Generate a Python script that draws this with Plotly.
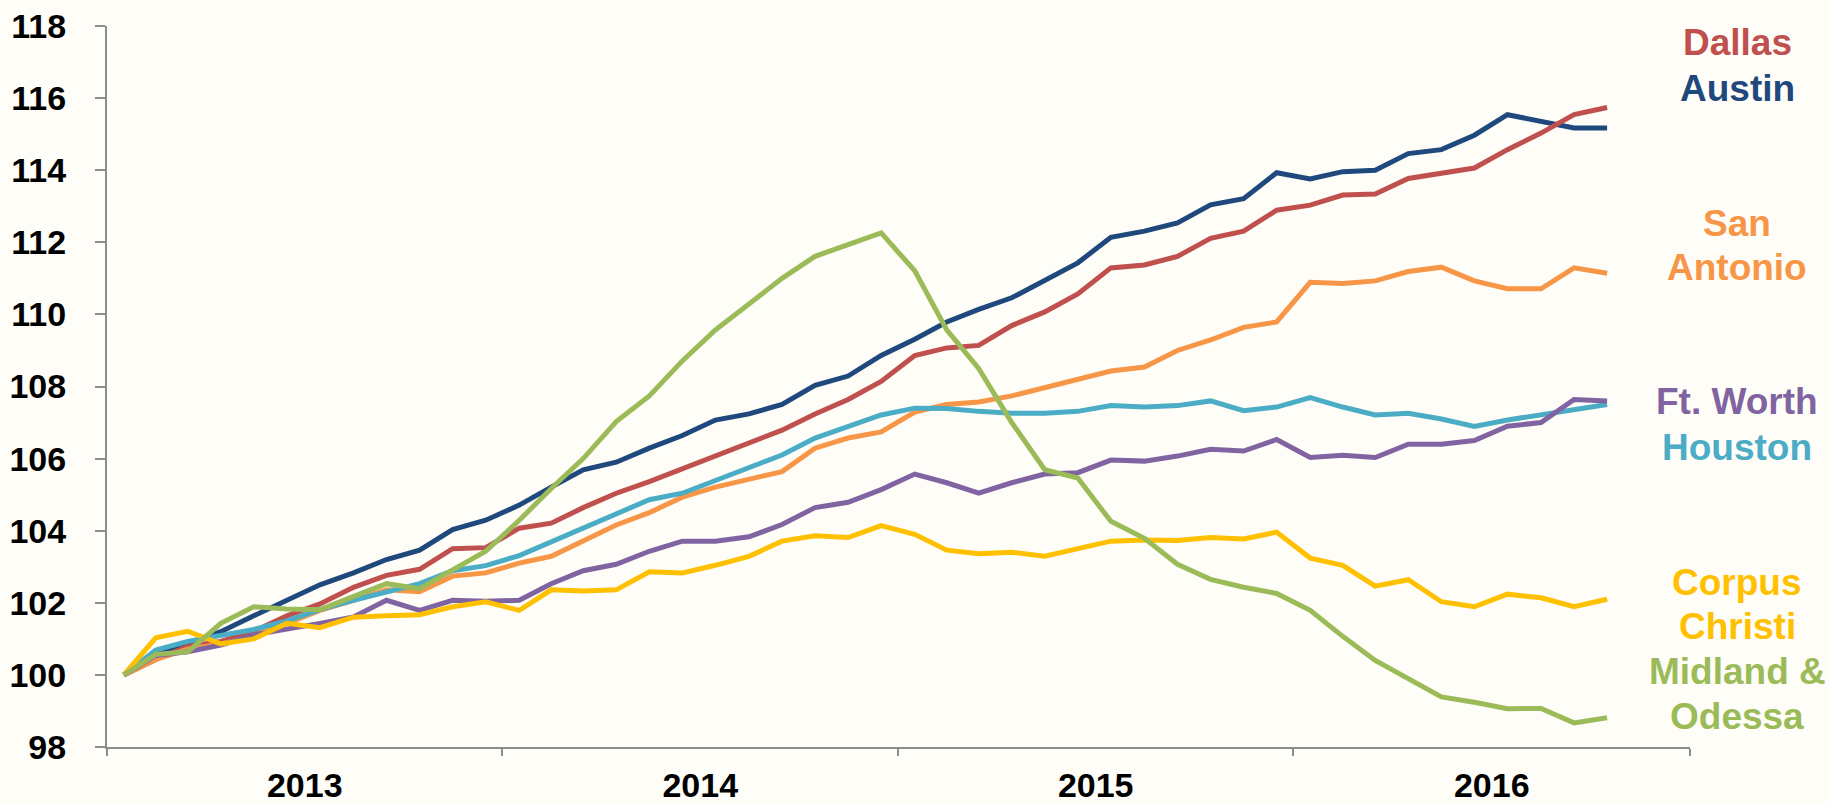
import plotly.graph_objects as go

months = [f"{y}-{m:02d}" for y in (2013, 2014, 2015, 2016) for m in range(1, 13)][:46]

austin = [100, 100.57, 100.86, 101.2, 101.64, 102.07, 102.5, 102.83, 103.2, 103.46, 104.03, 104.29,
          104.71, 105.21, 105.69, 105.9, 106.29, 106.64, 107.07, 107.24, 107.5, 108.03, 108.29, 108.86,
          109.31, 109.79, 110.14, 110.46, 110.96, 111.43, 112.14, 112.31, 112.54, 113.04, 113.21, 113.93,
          113.76, 113.96, 114.0, 114.46, 114.57, 114.97, 115.54, 115.36, 115.17, 115.17]
dallas = [100, 100.43, 100.79, 100.93, 101.21, 101.64, 101.97, 102.43, 102.76, 102.93, 103.5, 103.53,
          104.07, 104.21, 104.64, 105.04, 105.36, 105.71, 106.07, 106.43, 106.79, 107.24, 107.64, 108.14,
          108.86, 109.07, 109.14, 109.69, 110.07, 110.57, 111.29, 111.37, 111.61, 112.11, 112.31, 112.89,
          113.03, 113.31, 113.34, 113.77, 113.91, 114.06, 114.57, 115.03, 115.54, 115.74]
san_antonio = [100, 100.43, 100.71, 100.86, 101.07, 101.43, 101.79, 102.07, 102.36, 102.31, 102.74, 102.83,
               103.1, 103.29, 103.71, 104.16, 104.5, 104.93, 105.21, 105.43, 105.64, 106.29, 106.57, 106.74,
               107.29, 107.5, 107.57, 107.74, 107.97, 108.17, 108.43, 108.54, 109.0, 109.29, 109.64, 109.79,
               110.89, 110.86, 110.93, 111.19, 111.31, 110.93, 110.71, 110.71, 111.29, 111.14]
houston = [100, 100.69, 100.93, 101.11, 101.26, 101.5, 101.81, 102.07, 102.29, 102.53, 102.89, 103.03,
           103.31, 103.69, 104.07, 104.48, 104.86, 105.04, 105.39, 105.74, 106.1, 106.57, 106.89, 107.21,
           107.4, 107.39, 107.31, 107.26, 107.26, 107.31, 107.47, 107.43, 107.47, 107.6, 107.33, 107.43,
           107.69, 107.43, 107.21, 107.26, 107.1, 106.89, 107.07, 107.21, 107.36, 107.5]
ft_worth = [100, 100.54, 100.64, 100.83, 101.11, 101.26, 101.43, 101.61, 102.07, 101.79, 102.07, 102.04,
            102.07, 102.53, 102.89, 103.07, 103.43, 103.71, 103.71, 103.83, 104.17, 104.64, 104.79, 105.14,
            105.57, 105.33, 105.04, 105.33, 105.57, 105.61, 105.96, 105.93, 106.07, 106.26, 106.21, 106.53,
            106.03, 106.09, 106.03, 106.4, 106.4, 106.5, 106.9, 107.0, 107.64, 107.6]
corpus_christi = [100, 101.03, 101.21, 100.86, 101.0, 101.43, 101.31, 101.6, 101.64, 101.67, 101.89, 102.03,
                  101.79, 102.36, 102.33, 102.36, 102.86, 102.83, 103.04, 103.29, 103.71, 103.86, 103.81, 104.14,
                  103.9, 103.46, 103.36, 103.4, 103.29, 103.5, 103.71, 103.74, 103.73, 103.81, 103.77, 103.96,
                  103.24, 103.04, 102.46, 102.64, 102.03, 101.89, 102.24, 102.14, 101.89, 102.1]
midland_odessa = [100, 100.57, 100.64, 101.43, 101.89, 101.83, 101.81, 102.17, 102.53, 102.39, 102.93, 103.43,
                  104.29, 105.17, 106.0, 107.03, 107.74, 108.71, 109.57, 110.31, 111.0, 111.61, 111.93, 112.26,
                  111.21, 109.57, 108.5, 107.0, 105.69, 105.46, 104.26, 103.79, 103.07, 102.65, 102.43, 102.26,
                  101.79, 101.07, 100.4, 99.89, 99.39, 99.24, 99.06, 99.07, 98.67, 98.81]

series = [
    ("Austin", austin, "#1F497D"),
    ("Dallas", dallas, "#C0504D"),
    ("San Antonio", san_antonio, "#F79646"),
    ("Houston", houston, "#4BACC6"),
    ("Ft. Worth", ft_worth, "#8064A2"),
    ("Corpus Christi", corpus_christi, "#FFC000"),
    ("Midland & Odessa", midland_odessa, "#9BBB59"),
]

# right-side labels: (text, y value, colour)
labels = [
    ("Dallas", 117.55, "#C0504D"),
    ("Austin", 116.27, "#1F497D"),
    ("San", 112.52, "#F79646"),
    ("Antonio", 111.3, "#F79646"),
    ("Ft. Worth", 107.58, "#8064A2"),
    ("Houston", 106.3, "#4BACC6"),
    ("Corpus", 102.56, "#FFC000"),
    ("Christi", 101.34, "#FFC000"),
    ("Midland &", 100.09, "#9BBB59"),
    ("Odessa", 98.84, "#9BBB59"),
]

FONT = "Liberation Sans, Arial, sans-serif"

fig = go.Figure()
for name, vals, col in series:
    fig.add_trace(go.Scatter(
        x=months, y=vals, name=name, mode="lines",
        xperiod="M1", xperiodalignment="middle",
        line=dict(color=col, width=5),
    ))

for txt, yv, col in labels:
    fig.add_annotation(
        text=f"<b>{txt}</b>", xref="paper", yref="y", x=1.030, y=yv,
        showarrow=False, xanchor="center", yanchor="middle",
        font=dict(family=FONT, size=37, color=col),
    )

fig.update_layout(
    width=1829, height=805,
    margin=dict(l=107, r=139, t=26, b=58, pad=0),
    paper_bgcolor="#FFFDF7", plot_bgcolor="#FFFDF7",
    showlegend=False,
    font=dict(family=FONT, color="#000000"),
)
fig.update_xaxes(
    type="date", range=["2013-01-01", "2017-01-01"], automargin=False,
    dtick="M12", tick0="2013-01-01", tickformat="<b>%Y</b>", ticklabelmode="period",
    showgrid=False, zeroline=False,
    showline=True, linecolor="#8C8C8C", linewidth=2,
    ticks="outside", ticklen=7, tickwidth=2, tickcolor="#8C8C8C",
    ticklabelstandoff=0,
    tickfont=dict(family=FONT, size=34, color="#000000"),
)
fig.update_yaxes(
    range=[98, 118], dtick=2, tickformat="d", automargin=False,
    showgrid=False, zeroline=False,
    showline=True, linecolor="#8C8C8C", linewidth=2,
    ticks="outside", ticklen=10, tickwidth=2, tickcolor="#8C8C8C",
    ticklabelstandoff=22,
    tickprefix="<b>", ticksuffix="</b>",
    tickfont=dict(family=FONT, size=34, color="#000000"),
)

fig.write_html(
    "out.html",
    config={"displayModeBar": False},
    post_script="document.body.style.margin='0';document.body.style.overflow='hidden';"
                "document.body.style.background='#FFFDF7';",
)
